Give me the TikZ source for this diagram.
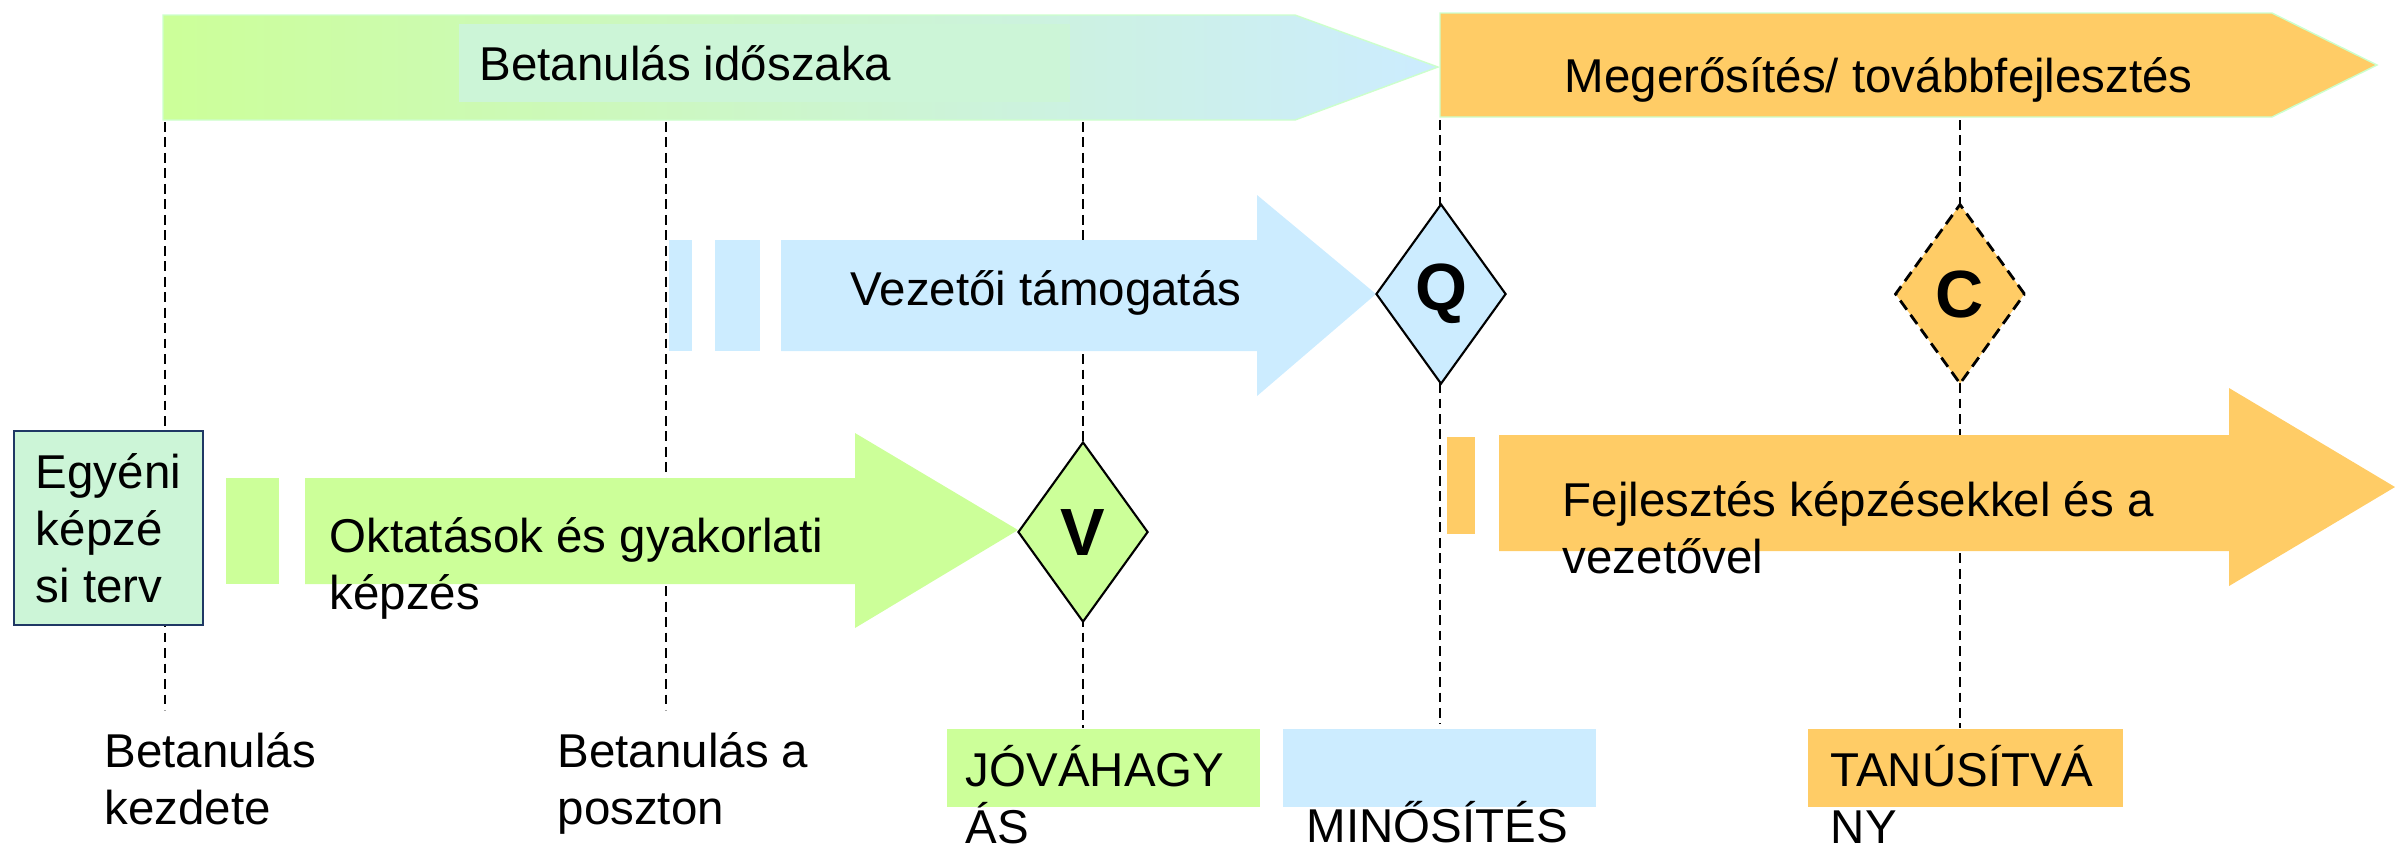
\documentclass[tikz,border=0pt]{standalone}
\usepackage{fontspec}
\setmainfont{Liberation Sans}
\usepackage{tikz}
\usetikzlibrary{shapes.geometric}

\definecolor{lgreen}{RGB}{204,255,153}
\definecolor{lblue}{RGB}{204,236,255}
\definecolor{lorange}{RGB}{255,204,102}
\definecolor{mint}{RGB}{204,245,215}
\definecolor{rim}{RGB}{204,255,204}
\definecolor{navy}{RGB}{31,56,100}

\tikzstyle{guide}=[black,line width=0.6pt,dash pattern=on 2.8pt off 1.6pt]
\tikzstyle{lbl}=[inner sep=0pt,anchor=base west,align=left,font=\fontsize{13.5}{16.2}\selectfont]
\tikzstyle{milestone}=[diamond,draw=black,line width=0.6pt,inner sep=0pt,minimum width=1.3cm,minimum height=1.8cm,font=\fontsize{19}{22}\selectfont\bfseries]
\tikzstyle{plan}=[draw=navy,line width=0.8pt,fill=mint,inner sep=0pt,minimum width=1.89cm,minimum height=1.94cm,align=left,font=\fontsize{13.5}{16.2}\selectfont]

\begin{document}
\begin{tikzpicture}[x=0.01cm,y=-0.01cm]
      \useasboundingbox (0,0) rectangle (2395,847);

      % time marks
      \coordinate (d1a) at (165,122);  \coordinate (d1b) at (165,710);
      \coordinate (d2a) at (666,122);  \coordinate (d2b) at (666,710);
      \coordinate (d3a) at (1083,122); \coordinate (d3b) at (1083,728);
      \coordinate (d4a) at (1440,120); \coordinate (d4b) at (1440,724);
      \coordinate (d5a) at (1960,120); \coordinate (d5b) at (1960,728);
      \draw[guide] (d1a) -- (d1b);
      \draw[guide] (d2a) -- (d2b);
      \draw[guide] (d3a) -- (d3b);
      \draw[guide] (d4a) -- (d4b);
      \draw[guide] (d5a) -- (d5b);

      % phases on top
      \shade[left color=lgreen,right color=lblue,draw=rim,line width=0.4pt]
        (163,15) -- (1295,15) -- (1438,67) -- (1295,120) -- (163,120) -- cycle;
      \fill[mint] (459,24) rectangle (1070,102);
      \node[lbl] (learn) at (479,80) {Betanulás időszaka};

      \fill[lorange,draw=rim,line width=0.4pt]
        (1440,13) -- (2272,13) -- (2377,65) -- (2272,117) -- (1440,117) -- cycle;
      \node[lbl] (grow) at (1564,92) {Megerősítés/ továbbfejlesztés};

      % support arrow
      \fill[lblue] (669,240) rectangle (692,351);
      \fill[lblue] (715,240) rectangle (760,351);
      \fill[lblue] (781,240) -- (1257,240) -- (1257,195) -- (1376,294)
        -- (1257,396) -- (1257,351) -- (781,351) -- cycle;
      \node[lbl] (boss) at (850,305) {Vezetői támogatás};

      % training arrow
      \node[plan] (plan) at (108.5,528) {Egyéni\\képzé\\si terv};
      \fill[lgreen] (226,478) rectangle (279,584);
      \fill[lgreen] (305,478) -- (855,478) -- (855,433) -- (1018,530)
        -- (855,628) -- (855,584) -- (305,584) -- cycle;
      \node[lbl] (train) at (329,609) {Oktatások és gyakorlati\\képzés};

      % development arrow
      \fill[lorange] (1447,437) rectangle (1475,534);
      \fill[lorange] (1499,435) -- (2229,435) -- (2229,388) -- (2395,487)
        -- (2229,586) -- (2229,551) -- (1499,551) -- cycle;
      \node[lbl] (dev) at (1562,573) {Fejlesztés képzésekkel és a\\vezetővel};

      % milestones
      \node[milestone,fill=lgreen] (v) at (1083,532) {V};
      \node[milestone,fill=lblue] (q) at (1441,294) {Q};
      \node[milestone,fill=lorange,line width=0.8pt,dash pattern=on 3.2pt off 1.8pt] (c) at (1960,294) {C};

      % bottom labels
      \fill[lgreen] (947,729) rectangle (1260,807);
      \fill[lblue] (1283,729) rectangle (1596,807);
      \fill[lorange] (1808,729) rectangle (2123,807);
      \node[lbl] (start) at (104,824) {Betanulás\\kezdete};
      \node[lbl] (post) at (557,824) {Betanulás a\\poszton};
      \node[lbl] (ok) at (965,843) {JÓVÁHAGY\\ÁS};
      \node[lbl] (qual) at (1306,842) {MINŐSÍTÉS};
      \node[lbl] (cert) at (1830,843) {TANÚSÍTVÁ\\NY};
\end{tikzpicture}
\end{document}
